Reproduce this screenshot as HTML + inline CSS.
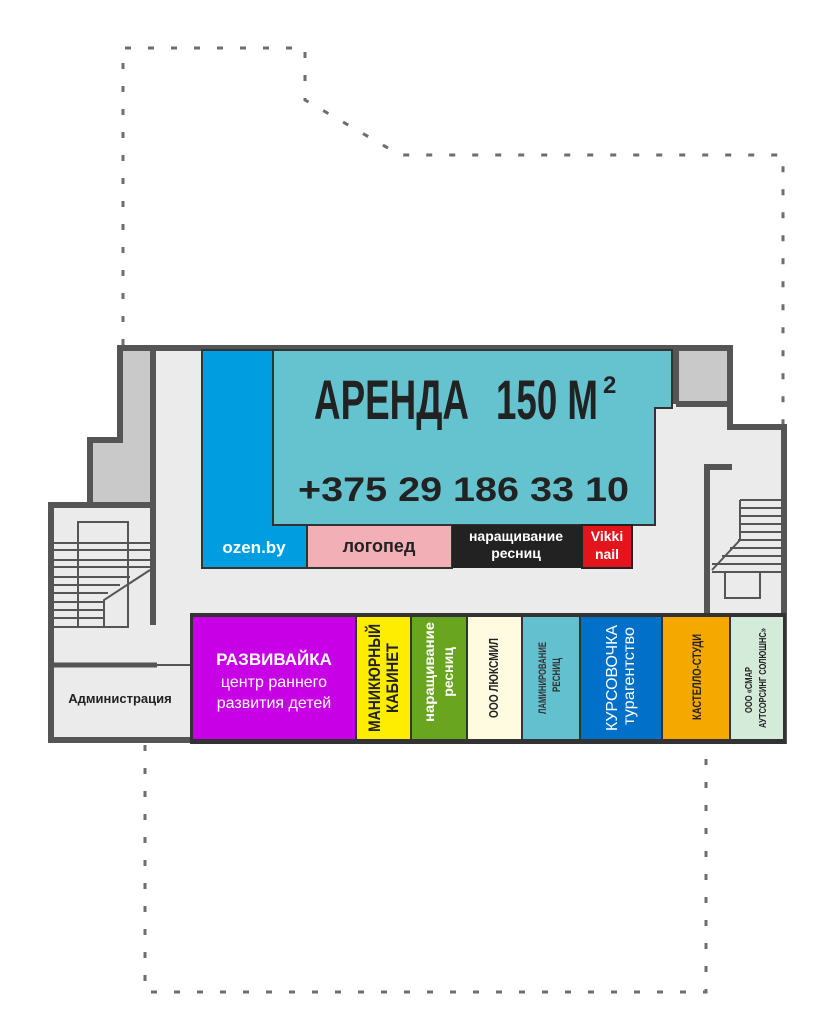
<!DOCTYPE html>
<html><head><meta charset="utf-8"><style>
html,body{margin:0;padding:0;background:#fff;}
svg{display:block;}
text{font-family:"Liberation Sans","DejaVu Sans",sans-serif;}
.n{font-family:"Liberation Sans Narrow","Liberation Sans",sans-serif;}
</style></head><body>
<svg width="832" height="1024" viewBox="0 0 832 1024" xmlns="http://www.w3.org/2000/svg">
<g fill="none" stroke="#6e6e6e" stroke-width="3" stroke-dasharray="6,17">
<polyline points="123,345 123,48 305,48 305,100 400,155 783,155 783,425"/>
<polyline points="145,745 145,992 706,992 706,745"/>
</g>
<polygon points="123,348 730,348 730,427 784,427 784,740 51,740 51,505 90,505 90,440 120,440 120,348" fill="#ebebeb"/>
<polygon points="123,351 150,351 150,502 90,502 90,440 123,440" fill="#c9c9c9"/>
<rect x="676" y="351" width="52" height="50" fill="#c9c9c9"/>
<g fill="none" stroke="#555" stroke-width="6" stroke-linejoin="miter">
<polyline points="120,351 120,348 730,348 730,427 784,427 784,744"/>
<polyline points="120,348 120,440 90,440 90,505 51,505 51,740 192,740"/>
<line x1="153" y1="348" x2="153" y2="625"/>
<line x1="89" y1="505" x2="153" y2="505"/>
<line x1="676" y1="348" x2="676" y2="404"/>
<line x1="676" y1="404" x2="730" y2="404"/>
<polyline points="732,467 707,467 707,613"/>
</g>
<line x1="51" y1="665" x2="157" y2="665" stroke="#555" stroke-width="5"/>
<line x1="157" y1="665" x2="192" y2="665" stroke="#555" stroke-width="2"/>
<g stroke="#555" stroke-width="2" fill="none">
<rect x="78" y="522" width="50" height="105"/>
<line x1="54" y1="543" x2="150" y2="543"/><line x1="54" y1="550" x2="150" y2="550"/>
<line x1="54" y1="560" x2="150" y2="560"/><line x1="54" y1="567" x2="150" y2="567"/>
<line x1="54" y1="577" x2="130" y2="577"/><line x1="54" y1="585" x2="120" y2="585"/>
<line x1="54" y1="593" x2="108" y2="593"/><line x1="54" y1="602" x2="104" y2="602"/>
<line x1="54" y1="610" x2="104" y2="610"/><line x1="54" y1="618" x2="104" y2="618"/>
<line x1="54" y1="627" x2="104" y2="627"/>
<polyline points="150,570 104,600 104,627"/>
</g>
<g stroke="#555" stroke-width="2" fill="none">
<line x1="740" y1="500" x2="781" y2="500"/><line x1="740" y1="508" x2="781" y2="508"/>
<line x1="740" y1="516" x2="781" y2="516"/><line x1="740" y1="524" x2="781" y2="524"/>
<line x1="740" y1="532" x2="781" y2="532"/><line x1="738" y1="540" x2="781" y2="540"/>
<line x1="730" y1="548" x2="781" y2="548"/><line x1="722" y1="556" x2="781" y2="556"/>
<line x1="712" y1="564" x2="781" y2="564"/><line x1="712" y1="572" x2="781" y2="572"/>
<polyline points="740,500 740,540 712,570"/>
<rect x="725" y="572" width="35" height="26"/>
</g>
<rect x="202" y="350" width="105" height="218" fill="#009ee0" stroke="#333" stroke-width="2"/>
<polygon points="273,350 672,350 672,408 655,408 655,525 273,525" fill="#65c3d0" stroke="#333" stroke-width="2"/>
<rect x="307" y="525" width="145" height="43" fill="#f2b0b6" stroke="#333" stroke-width="2"/>
<rect x="452" y="525" width="130" height="43" fill="#222"/>
<rect x="582" y="525" width="50" height="43" fill="#e3141b" stroke="#222" stroke-width="2"/>
<text class="n" x="314" y="419" font-size="56" font-weight="bold" fill="#222" textLength="155" lengthAdjust="spacingAndGlyphs">АРЕНДА</text>
<text class="n" x="496" y="419" font-size="56" font-weight="bold" fill="#222" textLength="102" lengthAdjust="spacingAndGlyphs">150 М</text>
<text class="n" x="603" y="393" font-size="24" font-weight="bold" fill="#222">2</text>
<text x="298" y="501" font-size="34" font-weight="bold" fill="#222" textLength="331" lengthAdjust="spacingAndGlyphs">+375 29 186 33 10</text>
<text x="254" y="553" font-size="17" font-weight="bold" fill="#fff" text-anchor="middle">ozen.by</text>
<text x="379" y="552" font-size="18" font-weight="bold" fill="#222" text-anchor="middle">логопед</text>
<text x="516" y="541" font-size="14" font-weight="bold" fill="#fff" text-anchor="middle">наращивание</text>
<text x="516" y="558" font-size="14" font-weight="bold" fill="#fff" text-anchor="middle">ресниц</text>
<text x="607" y="541" font-size="14" font-weight="bold" fill="#fff" text-anchor="middle">Vikki</text>
<text x="607" y="559" font-size="14" font-weight="bold" fill="#fff" text-anchor="middle">nail</text>
<rect x="190" y="613" width="596" height="131" fill="#333"/>
<rect x="193" y="617" width="162" height="122" fill="#c800e6"/>
<rect x="357" y="617" width="53" height="122" fill="#ffed00"/>
<rect x="412" y="617" width="54" height="122" fill="#6aa520"/>
<rect x="468" y="617" width="53" height="122" fill="#fffbe0"/>
<rect x="523" y="617" width="56" height="122" fill="#62c0cf"/>
<rect x="581" y="617" width="80" height="122" fill="#0070c8"/>
<rect x="663" y="617" width="66" height="122" fill="#f5a800"/>
<rect x="731" y="617" width="52" height="122" fill="#d4ebd9"/>
<text x="274" y="665" font-size="17" font-weight="bold" fill="#fff" text-anchor="middle">РАЗВИВАЙКА</text>
<text x="274" y="687" font-size="16" fill="#fff" text-anchor="middle">центр раннего</text>
<text x="274" y="708" font-size="16" fill="#fff" text-anchor="middle">развития детей</text>
<text x="120" y="703" font-size="13" font-weight="bold" fill="#222" text-anchor="middle">Администрация</text>
<g font-weight="bold">
<text transform="translate(380,678) rotate(-90)" font-size="17" fill="#222" text-anchor="middle" textLength="108" lengthAdjust="spacingAndGlyphs">МАНИКЮРНЫЙ</text>
<text transform="translate(398,678) rotate(-90)" font-size="17" fill="#222" text-anchor="middle" textLength="70" lengthAdjust="spacingAndGlyphs">КАБИНЕТ</text>
<text transform="translate(434,672) rotate(-90)" font-size="14" fill="#fff" text-anchor="middle" textLength="100" lengthAdjust="spacingAndGlyphs">наращивание</text>
<text transform="translate(453,672) rotate(-90)" font-size="14" fill="#fff" text-anchor="middle">ресниц</text>
<text transform="translate(498,678) rotate(-90)" font-size="13" fill="#222" text-anchor="middle" textLength="80" lengthAdjust="spacingAndGlyphs">ООО ЛЮКСМИЛ</text>
<text transform="translate(546,678) rotate(-90)" font-size="11" fill="#333" text-anchor="middle" textLength="72" lengthAdjust="spacingAndGlyphs">ЛАМИНИРОВАНИЕ</text>
<text transform="translate(560,675) rotate(-90)" font-size="11" fill="#333" text-anchor="middle" textLength="34" lengthAdjust="spacingAndGlyphs">РЕСНИЦ</text>
<text transform="translate(617,678) rotate(-90)" font-size="16" font-weight="normal" fill="#fff" text-anchor="middle" textLength="106" lengthAdjust="spacingAndGlyphs">КУРСОВОЧКА</text>
<text transform="translate(634,676) rotate(-90)" font-size="16" font-weight="normal" fill="#fff" text-anchor="middle" textLength="98" lengthAdjust="spacingAndGlyphs">турагентство</text>
<text transform="translate(701,677) rotate(-90)" font-size="12" fill="#222" text-anchor="middle" textLength="86" lengthAdjust="spacingAndGlyphs">КАСТЕЛЛО-СТУДИ</text>
<text transform="translate(752,690) rotate(-90)" font-size="10" fill="#222" text-anchor="middle" textLength="46" lengthAdjust="spacingAndGlyphs">ООО «СМАР</text>
<text transform="translate(766,678) rotate(-90)" font-size="10" fill="#222" text-anchor="middle" textLength="100" lengthAdjust="spacingAndGlyphs">АУТСОРСИНГ СОЛЮШНС»</text>
</g>
</svg>
</body></html>
